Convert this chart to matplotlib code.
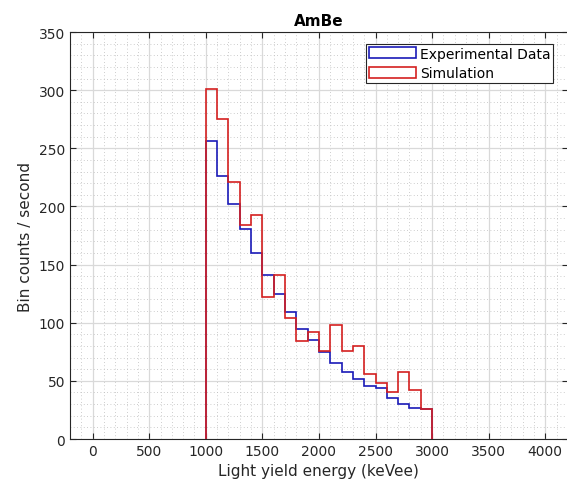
import numpy as np
import matplotlib.pyplot as plt
from matplotlib.patches import Patch
from matplotlib.ticker import MultipleLocator

# bin edges (keVee) and bin counts per second
edges = np.arange(1000, 3001, 100)
experimental = [256, 226, 202, 181, 160, 141, 125, 109, 95, 85,
                75, 65, 58, 52, 46, 44, 35, 30, 27, 26]
simulation = [301, 275, 221, 184, 193, 122, 141, 104, 84, 92,
              76, 98, 76, 80, 56, 48, 40, 58, 42, 26]

blue = '#1a1ab8'
red = '#d42020'

fig = plt.figure(figsize=(5.67, 4.89), dpi=100)
ax = fig.add_axes([0.1235, 0.1002, 0.878, 0.8323])

ax.stairs(experimental, edges, baseline=0, color=blue, linewidth=1.2, zorder=3)
ax.stairs(simulation, edges, baseline=0, color=red, linewidth=1.2, zorder=4)

ax.set_xlim(-200, 4200)
ax.set_ylim(0, 350)
ax.set_xticks(np.arange(0, 4001, 500))
ax.set_yticks(np.arange(0, 351, 50))
ax.xaxis.set_minor_locator(MultipleLocator(100))
ax.yaxis.set_minor_locator(MultipleLocator(10))

ax.grid(which='major', color='#d9d9d9', linewidth=0.9, linestyle='-')
ax.grid(which='minor', color='#bdbdbd', linewidth=0.6, linestyle=(0, (1, 3)))
ax.set_axisbelow(True)

ax.tick_params(which='major', direction='in', length=4, top=True, right=True,
               labelsize=10, colors='#262626', width=0.8)
ax.tick_params(which='minor', length=0, top=True, right=True)
for s in ax.spines.values():
    s.set_color('#262626')
    s.set_linewidth(0.8)

ax.set_xlabel('Light yield energy (keVee)', fontsize=11, color='#262626')
ax.set_ylabel('Bin counts / second', fontsize=11, color='#262626')
ax.set_title('AmBe', fontsize=11, fontweight='bold', pad=5)

handles = [Patch(facecolor='white', edgecolor=blue, linewidth=1.2, label='Experimental Data'),
           Patch(facecolor='white', edgecolor=red, linewidth=1.2, label='Simulation')]
leg = ax.legend(handles=handles, loc='upper left', bbox_to_anchor=(0.594, 0.971),
                fontsize=10, fancybox=False, framealpha=1, edgecolor='#262626',
                handlelength=3.4, handleheight=0.85, borderpad=0.2, labelspacing=0.4,
                handletextpad=0.3, borderaxespad=0)
leg.get_frame().set_linewidth(0.8)

fig.savefig('out.png', dpi=100)
